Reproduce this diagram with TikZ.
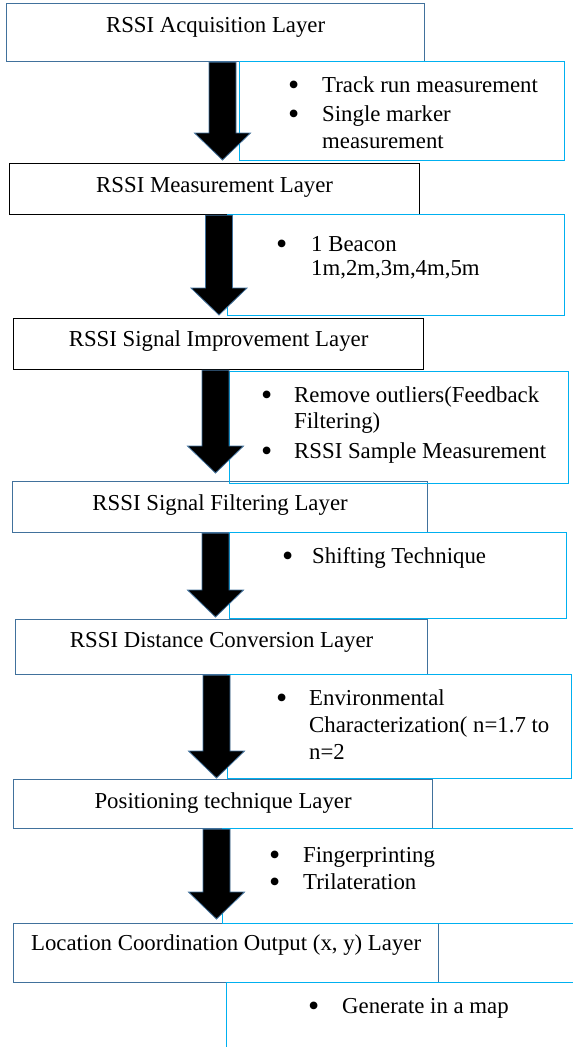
\documentclass[tikz,border=0pt]{standalone}
\usepackage{fontspec}
\setmainfont{Liberation Serif}
\usetikzlibrary{calc}

\definecolor{layerblue}{RGB}{65,113,156}
\definecolor{notecyan}{RGB}{0,176,240}

\tikzset{
  layer/.style={draw=layerblue, line width=1.2pt, rectangle, inner sep=0pt, anchor=north west, text height=12pt, text depth=#1},
  layer/.default=12pt,
  notebox/.style={draw=notecyan, line width=1.2pt, rectangle, inner sep=0pt, anchor=north west},
  notetext/.style={inner sep=0pt, anchor=base west},
  blockarrow/.style={fill=black, draw=layerblue, line width=0.8pt, line join=miter}
}

% bigger bullet, as in the word list
\newcommand{\bul}{\smash{\fontsize{32}{26.6}\selectfont\raisebox{-3pt}{\textbullet}}}

% fat arrow from one layer down to the next
\newcommand{\layerarrow}[4]{%
  \filldraw[blockarrow] let \p1=(#1.south), \p2=(#2.north) in
    ({(#3-13.5)*1pt},{\y1}) -- ({(#3+13.5)*1pt},{\y1})
    -- ({(#3+13.5)*1pt},{\y2+#4pt+27pt}) -- ({(#3+28)*1pt},{\y2+#4pt+27pt})
    -- ({#3*1pt},{\y2+#4pt}) -- ({(#3-28)*1pt},{\y2+#4pt+27pt})
    -- ({(#3-13.5)*1pt},{\y2+#4pt+27pt}) -- cycle;}

\begin{document}
\begin{tikzpicture}[x=1pt, y=-1pt, every node/.style={font=\fontsize{22.8}{26.6}\selectfont}]
\useasboundingbox (0,0) rectangle (573,1047);

% layers
\node[layer, minimum width=418pt, minimum height=58pt] (l1) at (6,3) {RSSI Acquisition Layer};
\node[layer=5.6pt, draw=black, minimum width=410pt, minimum height=51pt] (l2) at (9,163) {RSSI Measurement Layer};
\node[layer=7pt, draw=black, minimum width=410pt, minimum height=51pt] (l3) at (13,318) {RSSI Signal Improvement Layer};
\node[layer=5pt, minimum width=415pt, minimum height=51pt] (l4) at (12,481) {RSSI Signal Filtering Layer};
\node[layer, minimum width=412pt, minimum height=55pt] (l5) at (15,619) {RSSI Distance Conversion Layer};
\node[layer=2.4pt, minimum width=419pt, minimum height=49pt] (l6) at (13,779) {Positioning technique Layer};
\node[layer=17pt, minimum width=425pt, minimum height=59pt] (l7) at (13,923) {Location Coordination Output (x, y) Layer};

% note boxes
\node[notebox, minimum width=325pt, minimum height=99pt] (b1) at (239,61) {};
\node[notebox, minimum width=337pt, minimum height=101pt] (b2) at (227,214) {};
\node[notebox, minimum width=339pt, minimum height=112pt] (b3) at (229,371) {};
\node[notebox, minimum width=337pt, minimum height=86pt] (b4) at (229,532) {};
\node[notebox, minimum width=344pt, minimum height=104pt] (b5) at (227,674) {};
\node[notebox, minimum width=378pt, minimum height=95pt] (b6) at (222,828) {};
\node[notebox, minimum width=374pt, minimum height=98pt] (b7) at (226,982) {};

\node[notetext] (t1) at (288,92) {\begin{tabular}[t]{@{}p{34pt}@{}l@{}}
\bul & Track run measurement\\[3pt]
\bul & Single marker\\
 & measurement
\end{tabular}};
\node[notetext] (t2) at (276,251) {\begin{tabular}[t]{@{}p{35pt}@{}l@{}}
\bul & 1 Beacon\\[-2.6pt]
 & 1m,2m,3m,4m,5m
\end{tabular}};
\node[notetext] (t3) at (261,402) {\begin{tabular}[t]{@{}p{33pt}@{}l@{}}
\bul & Remove outliers(Feedback\\
 & Filtering)\\[3.1pt]
\bul & RSSI Sample Measurement
\end{tabular}};
\node[notetext] (t4) at (282,563) {\begin{tabular}[t]{@{}p{30pt}@{}l@{}}
\bul & Shifting Technique
\end{tabular}};
\node[notetext] (t5) at (276,705) {\begin{tabular}[t]{@{}p{33pt}@{}l@{}}
\bul & Environmental\\[0.7pt]
 & Characterization( n=1.7 to\\[0.7pt]
 & n=2
\end{tabular}};
\node[notetext] (t6) at (269,862) {\begin{tabular}[t]{@{}p{34pt}@{}l@{}}
\bul & Fingerprinting\\[1pt]
\bul & Trilateration
\end{tabular}};
\node[notetext] (t7) at (308,1013) {\begin{tabular}[t]{@{}p{34pt}@{}l@{}}
\bul & Generate in a map
\end{tabular}};

% arrows
\layerarrow{l1}{l2}{222.5}{3}
\layerarrow{l2}{l3}{219}{3}
\layerarrow{l3}{l4}{215.5}{8}
\layerarrow{l4}{l5}{215.5}{2}
\layerarrow{l5}{l6}{216.5}{1}
\layerarrow{l6}{l7}{216.5}{4}

\end{tikzpicture}
\end{document}
